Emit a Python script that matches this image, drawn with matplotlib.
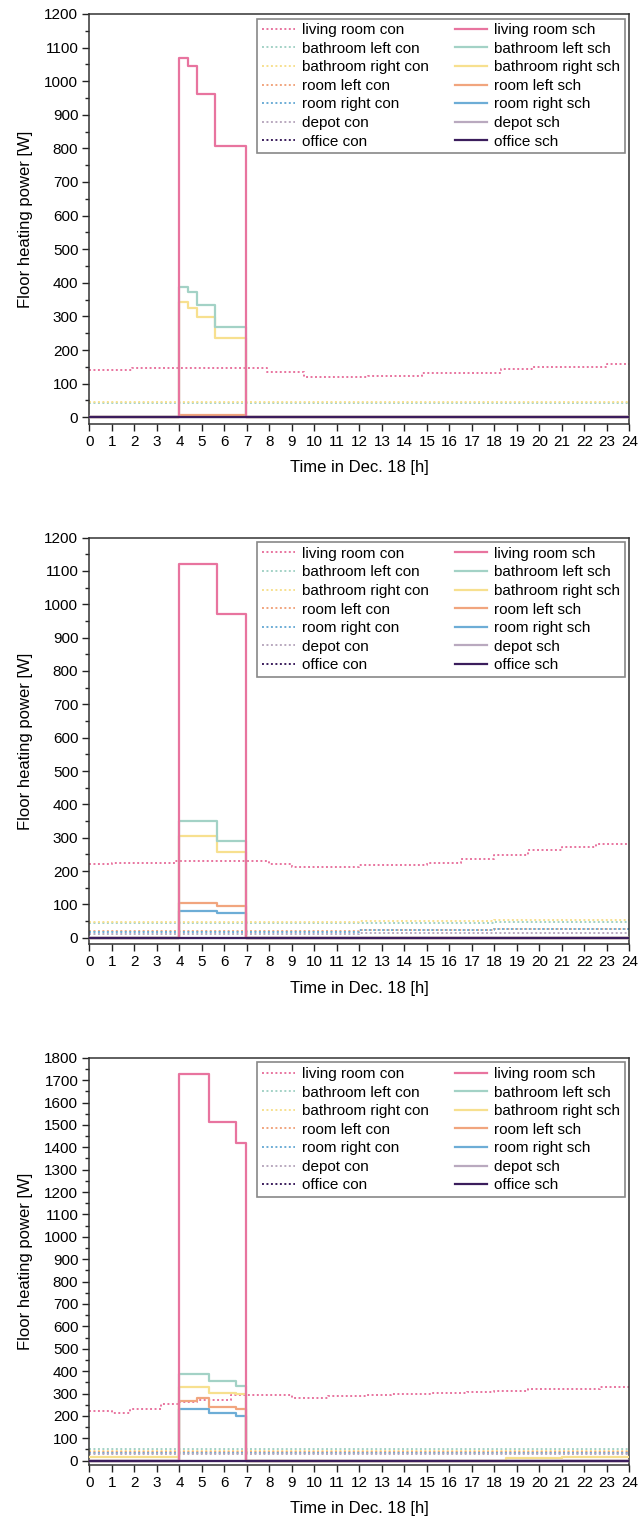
import matplotlib
matplotlib.use("Agg")
import matplotlib.pyplot as plt
from matplotlib.ticker import MultipleLocator

plt.rcParams['font.family'] = ['Liberation Sans', 'DejaVu Sans']

# ---- series names and colours -------------------------------------------
rooms = ["living room", "bathroom left", "bathroom right", "room left",
         "room right", "depot", "office"]
colors = ["#e8749f", "#a3d2c6", "#f7e08f", "#f1a57e", "#6dadd6",
          "#b9a9bf", "#3b1d5c"]

# ---- panel 1 --------------------------------------------------------------
# schedule-controlled (sch): breakpoints [h] and power levels [W]
p1_sch_t = [0, 4.0, 4.36, 4.77, 5.58, 6.98]
p1_living_sch = [0, 1068, 1045, 962, 806, 0]
p1_bathl_sch = [0, 388, 372, 334, 268, 0]
p1_bathr_sch = [0, 342, 325, 297, 237, 0]
p1_rooml_sch = [0, 8, 8, 8, 8, 0]
p1_roomr_sch = [0, 0, 0, 0, 0, 0]
p1_depot_sch = [0, 0, 0, 0, 0, 0]
p1_office_sch = [0, 0, 0, 0, 0, 0]
# conventional control (con)
p1_living_con_t = [0, 1.9, 7.9, 9.55, 12.4, 14.8, 18.3, 19.7, 23.0]
p1_living_con = [140, 147, 135, 119, 124, 132, 142, 150, 157]
p1_con_t = [0]
p1_bathl_con = [43]
p1_bathr_con = [45]
p1_rooml_con = [0]
p1_roomr_con = [0]
p1_depot_con = [0]
p1_office_con = [0]

# ---- panel 2 --------------------------------------------------------------
p2_sch_t = [0, 4.0, 5.68, 6.98]
p2_living_sch = [0, 1122, 972, 0]
p2_bathl_sch = [0, 350, 291, 0]
p2_bathr_sch = [0, 306, 256, 0]
p2_rooml_sch = [0, 104, 94, 0]
p2_roomr_sch = [0, 80, 74, 0]
p2_depot_sch = [0, 0, 0, 0]
p2_office_sch = [0, 0, 0, 0]
p2_living_con_t = [0, 1.0, 3.8, 8.0, 9.0, 12.0, 15.0, 16.5, 18.0, 19.5, 21.0, 22.5]
p2_living_con = [220, 225, 230, 222, 212, 217, 225, 235, 248, 262, 272, 280]
p2_con_t = [0, 12, 18]
p2_bathl_con = [43, 44, 46]
p2_bathr_con = [48, 50, 53]
p2_rooml_con = [20, 22, 25]
p2_roomr_con = [18, 22, 26]
p2_depot_con = [12, 13, 15]
p2_office_con = [0, 0, 0]

# ---- panel 3 --------------------------------------------------------------
p3_sch_t = [0, 4.0, 4.76, 5.3, 6.5, 6.98, 18.5, 21.0]
p3_living_sch = [0, 1729, 1729, 1513, 1420, 0, 0, 0]
p3_bathl_sch = [0, 388, 388, 356, 335, 0, 0, 0]
p3_bathr_sch = [16, 328, 328, 301, 298, 0, 10, 18]
p3_rooml_sch = [0, 268, 278, 241, 229, 0, 0, 0]
p3_roomr_sch = [0, 229, 229, 211, 200, 0, 0, 0]
p3_depot_sch = [0, 0, 0, 0, 0, 0, 0, 0]
p3_office_sch = [0, 0, 0, 0, 0, 0, 0, 0]
p3_living_con_t = [0, 1.0, 1.8, 3.2, 4.0, 4.8, 6.3, 9.0, 10.6, 12.3, 13.4,
                   15.2, 16.8, 18.0, 19.5, 21.0, 22.7]
p3_living_con = [220, 212, 232, 252, 262, 272, 295, 280, 288, 292, 296,
                 302, 306, 312, 318, 322, 328]
p3_con_t = [0]
p3_bathl_con = [51]
p3_bathr_con = [45]
p3_rooml_con = [38]
p3_roomr_con = [33]
p3_depot_con = [28]
p3_office_con = [0]

x_ticks = list(range(0, 25))

panels = [
    dict(sch_t=p1_sch_t,
         sch=[p1_living_sch, p1_bathl_sch, p1_bathr_sch, p1_rooml_sch,
              p1_roomr_sch, p1_depot_sch, p1_office_sch],
         living_con_t=p1_living_con_t, living_con=p1_living_con,
         con_t=p1_con_t,
         con=[p1_bathl_con, p1_bathr_con, p1_rooml_con, p1_roomr_con,
              p1_depot_con, p1_office_con],
         ymax=1200, rect=[0.1400, 0.7211, 0.8450, 0.2697]),
    dict(sch_t=p2_sch_t,
         sch=[p2_living_sch, p2_bathl_sch, p2_bathr_sch, p2_rooml_sch,
              p2_roomr_sch, p2_depot_sch, p2_office_sch],
         living_con_t=p2_living_con_t, living_con=p2_living_con,
         con_t=p2_con_t,
         con=[p2_bathl_con, p2_bathr_con, p2_rooml_con, p2_roomr_con,
              p2_depot_con, p2_office_con],
         ymax=1200, rect=[0.1400, 0.3787, 0.8450, 0.2676]),
    dict(sch_t=p3_sch_t,
         sch=[p3_living_sch, p3_bathl_sch, p3_bathr_sch, p3_rooml_sch,
              p3_roomr_sch, p3_depot_sch, p3_office_sch],
         living_con_t=p3_living_con_t, living_con=p3_living_con,
         con_t=p3_con_t,
         con=[p3_bathl_con, p3_bathr_con, p3_rooml_con, p3_roomr_con,
              p3_depot_con, p3_office_con],
         ymax=1800, rect=[0.1400, 0.0361, 0.8450, 0.2680]),
]

DOT = (0, (1.0, 1.3))


def step(ax, t, w, **kw):
    """Draw a piecewise-constant profile that holds its last level to 24 h."""
    return ax.plot(list(t) + [24], list(w) + [w[-1]],
                   drawstyle="steps-post", **kw)[0]


fig = plt.figure(figsize=(6.39, 15.2), dpi=100)

for p in panels:
    ax = fig.add_axes(p["rect"])
    con_handles = []

    # conventional control: dotted
    h = step(ax, p["living_con_t"], p["living_con"], color=colors[0],
             lw=1.4, ls=DOT, label=f"{rooms[0]} con", zorder=2)
    con_handles.append(h)
    for i, w in enumerate(p["con"], start=1):
        h = step(ax, p["con_t"], w, color=colors[i], lw=1.4, ls=DOT,
                 label=f"{rooms[i]} con", zorder=2)
        con_handles.append(h)

    # schedule control: solid, office line kept on top at zero
    sch_lines = {}
    for i in [6, 5, 4, 3, 2, 1, 0]:
        z = 4 if i == 6 else 3 + (6 - i) * 0.1
        sch_lines[i] = step(ax, p["sch_t"], p["sch"][i], color=colors[i],
                            lw=1.6, label=f"{rooms[i]} sch", zorder=z)
    sch_handles = [sch_lines[i] for i in range(7)]

    ax.set_xlim(0, 24)
    ax.set_ylim(-20, p["ymax"])
    ax.set_xticks(x_ticks)
    ax.yaxis.set_major_locator(MultipleLocator(100))
    ax.yaxis.set_minor_locator(MultipleLocator(50))
    ax.tick_params(axis="both", which="major", direction="out", length=5,
                   width=1.0, labelsize=11, pad=3, color="#222222")
    ax.tick_params(axis="y", which="minor", direction="out", length=3,
                   width=1.0, color="#222222")
    for s in ax.spines.values():
        s.set_linewidth(1.1)
        s.set_color("#333333")

    ax.set_xlabel("Time in Dec. 18 [h]", fontsize=12, labelpad=8)
    ax.set_ylabel("Floor heating power [W]", fontsize=12, labelpad=8)

    handles = con_handles + sch_handles
    leg = ax.legend(handles, [h.get_label() for h in handles],
                    ncol=2, loc="upper right", fontsize=11,
                    handlelength=2.15, handletextpad=0.45,
                    columnspacing=1.7, labelspacing=0.3, borderpad=0.3,
                    borderaxespad=0.3, frameon=True, fancybox=False,
                    framealpha=1)
    leg.get_frame().set_edgecolor("#888888")
    leg.get_frame().set_linewidth(1.2)

fig.savefig("out.png", dpi=100)
